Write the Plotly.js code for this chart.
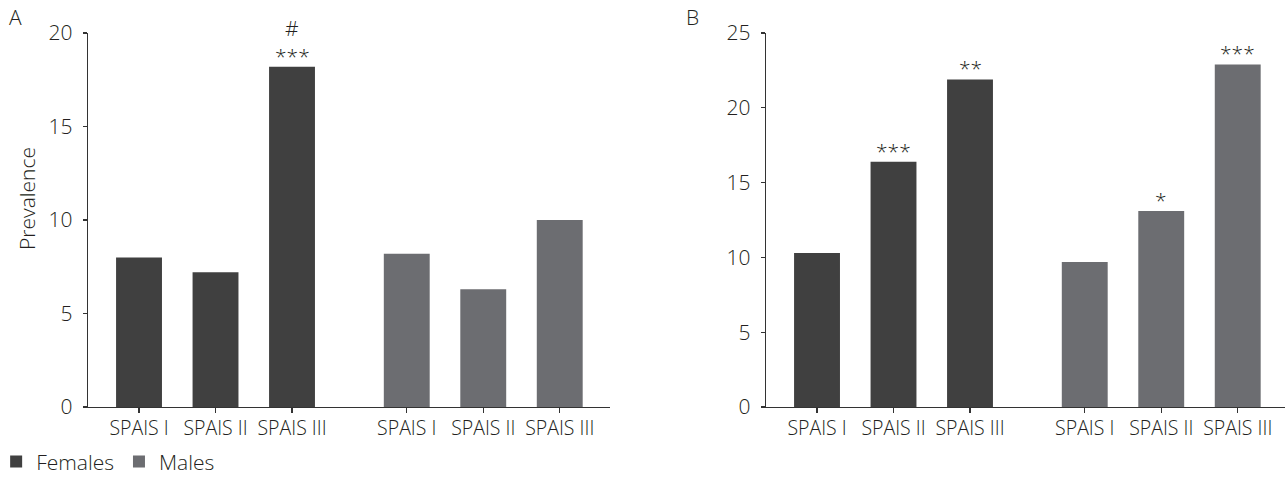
<!DOCTYPE html>
<html>
<head>
<meta charset="utf-8">
<script src="https://cdn.plot.ly/plotly-3.0.1.min.js"></script>
<style>
  html, body { margin: 0; padding: 0; background: #ffffff; }
  #chart { width: 1285px; height: 477px; }
</style>
</head>
<body>
<div id="chart"></div>
<script>
// ---- Data ----
const categories = ['SPAIS I', 'SPAIS II', 'SPAIS III'];
const seriesNames = ['Females', 'Males'];
const panelLabels = ['A', 'B'];
const yTitle = 'Prevalence';

const femalesA = [8.0, 7.2, 18.2];
const malesA   = [8.2, 6.3, 10.0];
const femalesB = [10.3, 16.4, 21.9];
const malesB   = [9.7, 13.1, 22.9];

// significance marks above each bar
const starsFemalesA = ['', '', '***'];
const hashFemalesA  = ['', '', '#'];
const starsMalesA   = ['', '', ''];
const starsFemalesB = ['', '***', '**'];
const starsMalesB   = ['', '*', '***'];

// ---- Styling / layout ----
const W = 1285, H = 477;
const colors = { Females: '#404040', Males: '#6c6d71' };
const textColor = '#231f20';
const lineColor = '#333333';
const fontFamily = '"Open Sans", "Liberation Sans", sans-serif';
const fontWeight = 300;
const fontSize = 21;
const xTickSize = 19.5;
const groupGap = 3.5;     // position offset of second group
const barWidth = 0.6;

function positions(groupIndex) {
  return categories.map((_, i) => i + groupIndex * groupGap);
}
const femPos = positions(0);
const malPos = positions(1);

function fnt(size) {
  return { family: fontFamily, size: size, color: textColor, weight: fontWeight };
}

function barTrace(name, pos, values, xa, ya, showlegend) {
  return {
    type: 'bar', name: name, x: pos, y: values, width: barWidth,
    xaxis: xa, yaxis: ya, marker: { color: colors[name], line: { width: 0 } },
    showlegend: showlegend, hoverinfo: 'x+y'
  };
}

const data = [
  barTrace('Females', femPos, femalesA, 'x', 'y', true),
  barTrace('Males', malPos, malesA, 'x', 'y', true),
  barTrace('Females', femPos, femalesB, 'x2', 'y2', false),
  barTrace('Males', malPos, malesB, 'x2', 'y2', false)
];

const annotations = [];
function addMarks(pos, values, marks, xr, yr, shift) {
  marks.forEach((m, i) => {
    if (!m) return;
    annotations.push({
      xref: xr, yref: yr, x: pos[i], y: values[i], text: m,
      showarrow: false, yanchor: 'bottom', yshift: shift,
      font: fnt(fontSize)
    });
  });
}
addMarks(femPos, femalesA, starsFemalesA, 'x', 'y', -5);
addMarks(femPos, femalesA, hashFemalesA, 'x', 'y', 23);
addMarks(malPos, malesA, starsMalesA, 'x', 'y', -5);
addMarks(femPos, femalesB, starsFemalesB, 'x2', 'y2', -5);
addMarks(malPos, malesB, starsMalesB, 'x2', 'y2', -5);

// panel letters
annotations.push({ xref: 'paper', yref: 'paper', x: 15 / W, y: (407 - 17) / 374,
  text: panelLabels[0], showarrow: false, xanchor: 'center', yanchor: 'middle',
  font: fnt(fontSize) });
annotations.push({ xref: 'paper', yref: 'paper', x: 692 / W, y: (407 - 17) / 374,
  text: panelLabels[1], showarrow: false, xanchor: 'center', yanchor: 'middle',
  font: fnt(fontSize) });
// y axis title
annotations.push({ xref: 'paper', yref: 'paper', x: 27 / W, y: (407 - 199) / 374,
  text: yTitle, showarrow: false, textangle: -90, xanchor: 'center', yanchor: 'middle',
  font: fnt(fontSize) });

const tickVals = femPos.concat(malPos);
const tickText = categories.concat(categories);

function xAxis(domain, range) {
  return {
    domain: domain, range: range, type: 'linear', fixedrange: true,
    tickmode: 'array', tickvals: tickVals, ticktext: tickText, tickangle: 0,
    ticks: 'outside', ticklen: 5, tickwidth: 1.2, tickcolor: lineColor,
    showline: true, linecolor: lineColor, linewidth: 1.3,
    showgrid: false, zeroline: false, automargin: false, ticklabelstandoff: -2,
    tickfont: fnt(xTickSize)
  };
}
function yAxis(range, anchor) {
  return {
    range: range, dtick: 5, tick0: 0, anchor: anchor, fixedrange: true,
    ticks: 'outside', ticklen: 4, tickwidth: 1.2, tickcolor: lineColor,
    showline: true, linecolor: lineColor, linewidth: 1.3,
    showgrid: false, zeroline: false, ticklabelstandoff: 6, automargin: false,
    tickfont: fnt(fontSize)
  };
}

const layout = {
  width: W, height: H,
  margin: { l: 0, r: 0, t: 33, b: 70, pad: 0, autoexpand: false },
  paper_bgcolor: '#ffffff', plot_bgcolor: '#ffffff',
  font: fnt(fontSize),
  xaxis: xAxis([88 / W, 610 / W], [-0.667, 6.157]),
  yaxis: yAxis([0, 20], 'x'),
  xaxis2: xAxis([766 / W, 1], [-0.667, 6.118]),
  yaxis2: yAxis([0, 25], 'x2'),
  showlegend: true,
  legend: {
    orientation: 'h', x: -0.003, xanchor: 'left', y: -0.092, yanchor: 'top',
    font: fnt(fontSize),
    traceorder: 'normal', itemclick: false, itemdoubleclick: false
  },
  annotations: annotations
};

Plotly.newPlot('chart', data, layout, { displayModeBar: false, staticPlot: true });
</script>
</body>
</html>
